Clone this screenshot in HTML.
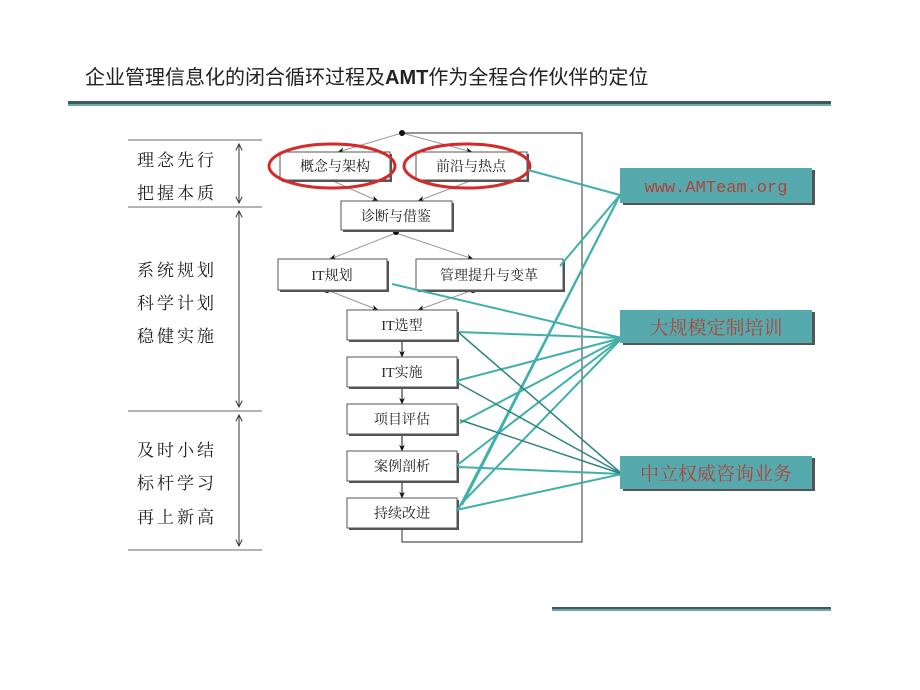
<!DOCTYPE html>
<html><head><meta charset="utf-8"><style>
html,body{margin:0;padding:0;background:#fff;}
svg{display:block;}
</style></head><body>
<svg width="920" height="690" viewBox="0 0 920 690" xmlns="http://www.w3.org/2000/svg" style="font-family:'Liberation Serif','Noto Serif CJK SC','Noto Sans CJK SC',serif">
<defs>
<marker id="a" viewBox="0 0 10 10" refX="9" refY="5" markerWidth="7" markerHeight="7" orient="auto"><path d="M0,1 L10,5 L0,9 L3,5z" fill="#111"/></marker>
<marker id="v" viewBox="0 0 10 10" refX="9" refY="5" markerWidth="8" markerHeight="8" orient="auto"><path d="M1,1 L9,5 L1,9" fill="none" stroke="#333" stroke-width="1.2"/></marker>
</defs>
<text x="85" y="84" font-size="20" fill="#222" style="font-family:'Liberation Sans','Noto Sans CJK SC',sans-serif">企业管理信息化的闭合循环过程及<tspan font-weight="bold">AMT</tspan>作为全程合作伙伴的定位</text>
<rect x="68" y="101" width="763" height="3" fill="#3f5a5f"/>
<rect x="68" y="104" width="763" height="2" fill="#6fa8a8"/>
<rect x="552" y="607" width="279" height="2" fill="#3f5a5f"/>
<rect x="552" y="609" width="279" height="2" fill="#6fa8a8"/>

<g stroke="#888" stroke-width="1.2">
<line x1="128" y1="140" x2="262" y2="140"/><line x1="128" y1="207" x2="262" y2="207"/>
<line x1="128" y1="411" x2="262" y2="411"/><line x1="128" y1="550" x2="262" y2="550"/>
</g>
<g stroke="#333" stroke-width="1">
<line x1="239" y1="203" x2="239" y2="144" marker-end="url(#v)"/><line x1="239" y1="144" x2="239" y2="203" marker-end="url(#v)"/>
<line x1="239" y1="407" x2="239" y2="211" marker-end="url(#v)"/><line x1="239" y1="211" x2="239" y2="407" marker-end="url(#v)"/>
<line x1="239" y1="546" x2="239" y2="415" marker-end="url(#v)"/><line x1="239" y1="415" x2="239" y2="546" marker-end="url(#v)"/>
</g>
<g font-size="17" fill="#222" letter-spacing="3">
<text x="137" y="166">理念先行</text><text x="137" y="199">把握本质</text>
<text x="137" y="276">系统规划</text><text x="137" y="309">科学计划</text><text x="137" y="342">稳健实施</text>
<text x="137" y="456">及时小结</text><text x="137" y="489">标杆学习</text><text x="137" y="523">再上新高</text>
</g>

<polyline points="402,133 582,133 582,542 402,542 402,528" fill="none" stroke="#555" stroke-width="1.2"/>
<g stroke="#999" stroke-width="1" fill="none">
<line x1="402" y1="133" x2="338" y2="152" marker-end="url(#a)"/>
<line x1="402" y1="133" x2="472" y2="152" marker-end="url(#a)"/>
<line x1="333" y1="181" x2="378" y2="201" marker-end="url(#a)"/>
<line x1="470" y1="181" x2="418" y2="201" marker-end="url(#a)"/>
<line x1="396" y1="233" x2="330" y2="259" marker-end="url(#a)"/>
<line x1="396" y1="233" x2="473" y2="259" marker-end="url(#a)"/>
<line x1="327" y1="290" x2="378" y2="310" marker-end="url(#a)"/>
<line x1="473" y1="290" x2="418" y2="310" marker-end="url(#a)"/>
</g>
<g stroke="#111" stroke-width="1" fill="none">
<line x1="402" y1="341" x2="402" y2="357" marker-end="url(#a)"/>
<line x1="402" y1="388" x2="402" y2="404" marker-end="url(#a)"/>
<line x1="402" y1="435" x2="402" y2="451" marker-end="url(#a)"/>
<line x1="402" y1="482" x2="402" y2="498" marker-end="url(#a)"/>
</g>
<g fill="#111"><circle cx="402" cy="133" r="3"/><circle cx="396" cy="232" r="3"/><circle cx="327" cy="290" r="3"/><circle cx="473" cy="290" r="3"/></g>

<g fill="#fff" stroke="#555" stroke-width="1">
<g><rect x="282" y="154" width="110" height="28" fill="#555" stroke="none"/><rect x="280" y="152" width="110" height="28"/></g>
<g><rect x="418" y="154" width="111" height="28" fill="#555" stroke="none"/><rect x="416" y="152" width="111" height="28"/></g>
<g><rect x="343" y="203" width="111" height="29" fill="#555" stroke="none"/><rect x="341" y="201" width="111" height="29"/></g>
<g><rect x="280" y="261" width="109" height="31" fill="#555" stroke="none"/><rect x="278" y="259" width="109" height="31"/></g>
<g><rect x="418" y="261" width="147" height="31" fill="#555" stroke="none"/><rect x="416" y="259" width="147" height="31"/></g>
<g><rect x="349" y="312" width="110" height="30" fill="#555" stroke="none"/><rect x="347" y="310" width="110" height="30"/></g>
<g><rect x="349" y="359" width="110" height="30" fill="#555" stroke="none"/><rect x="347" y="357" width="110" height="30"/></g>
<g><rect x="349" y="406" width="110" height="30" fill="#555" stroke="none"/><rect x="347" y="404" width="110" height="30"/></g>
<g><rect x="349" y="453" width="110" height="30" fill="#555" stroke="none"/><rect x="347" y="451" width="110" height="30"/></g>
<g><rect x="349" y="500" width="110" height="30" fill="#555" stroke="none"/><rect x="347" y="498" width="110" height="30"/></g>
</g>
<g font-size="14" fill="#222" text-anchor="middle">
<text x="335" y="171">概念与架构</text><text x="471" y="171">前沿与热点</text>
<text x="396" y="221">诊断与借鉴</text><text x="332" y="280">IT规划</text>
<text x="489" y="280">管理提升与变革</text><text x="402" y="330">IT选型</text>
<text x="402" y="377">IT实施</text><text x="402" y="424">项目评估</text>
<text x="402" y="471">案例剖析</text><text x="402" y="518">持续改进</text>
</g>
<ellipse cx="332" cy="166" rx="63" ry="22" fill="none" stroke="#d42a2a" stroke-width="3"/>
<ellipse cx="467" cy="166" rx="63" ry="22" fill="none" stroke="#d42a2a" stroke-width="3"/>

<g stroke="#3fb0aa" stroke-width="2" fill="none">
<line x1="620" y1="195" x2="528" y2="170"/>
<line x1="620" y1="195" x2="560" y2="266"/>
<line x1="620" y1="195" x2="462" y2="505"/>
<line x1="620" y1="195" x2="458" y2="510"/>
<line x1="622" y1="338" x2="392" y2="284"/>
<line x1="622" y1="338" x2="458" y2="332"/>
<line x1="622" y1="338" x2="456" y2="381"/>
<line x1="622" y1="338" x2="460" y2="423"/>
<line x1="622" y1="338" x2="456" y2="466"/>
<line x1="622" y1="338" x2="460" y2="505"/>
<line x1="622" y1="474" x2="458" y2="467"/>
<line x1="622" y1="474" x2="456" y2="510"/>
</g>
<g stroke="#2e8580" stroke-width="1.5" fill="none">
<line x1="622" y1="474" x2="458" y2="332"/>
<line x1="622" y1="474" x2="458" y2="383"/>
<line x1="622" y1="474" x2="460" y2="420"/>
</g>

<rect x="623" y="170" width="192" height="35" fill="#555"/>
<rect x="620" y="168" width="192" height="35" fill="#56aaad"/>
<text x="716" y="192" font-size="17" fill="#b0443a" text-anchor="middle" style="font-family:'Liberation Mono',monospace">www.AMTeam.org</text>
<rect x="623" y="312" width="192" height="33" fill="#555"/>
<rect x="620" y="310" width="192" height="33" fill="#56aaad"/>
<text x="716" y="334" font-size="19" fill="#b0443a" text-anchor="middle">大规模定制培训</text>
<rect x="623" y="458" width="192" height="33" fill="#555"/>
<rect x="620" y="456" width="192" height="33" fill="#56aaad"/>
<text x="716" y="480" font-size="19" fill="#b0443a" text-anchor="middle">中立权威咨询业务</text>
</svg>
</body></html>
